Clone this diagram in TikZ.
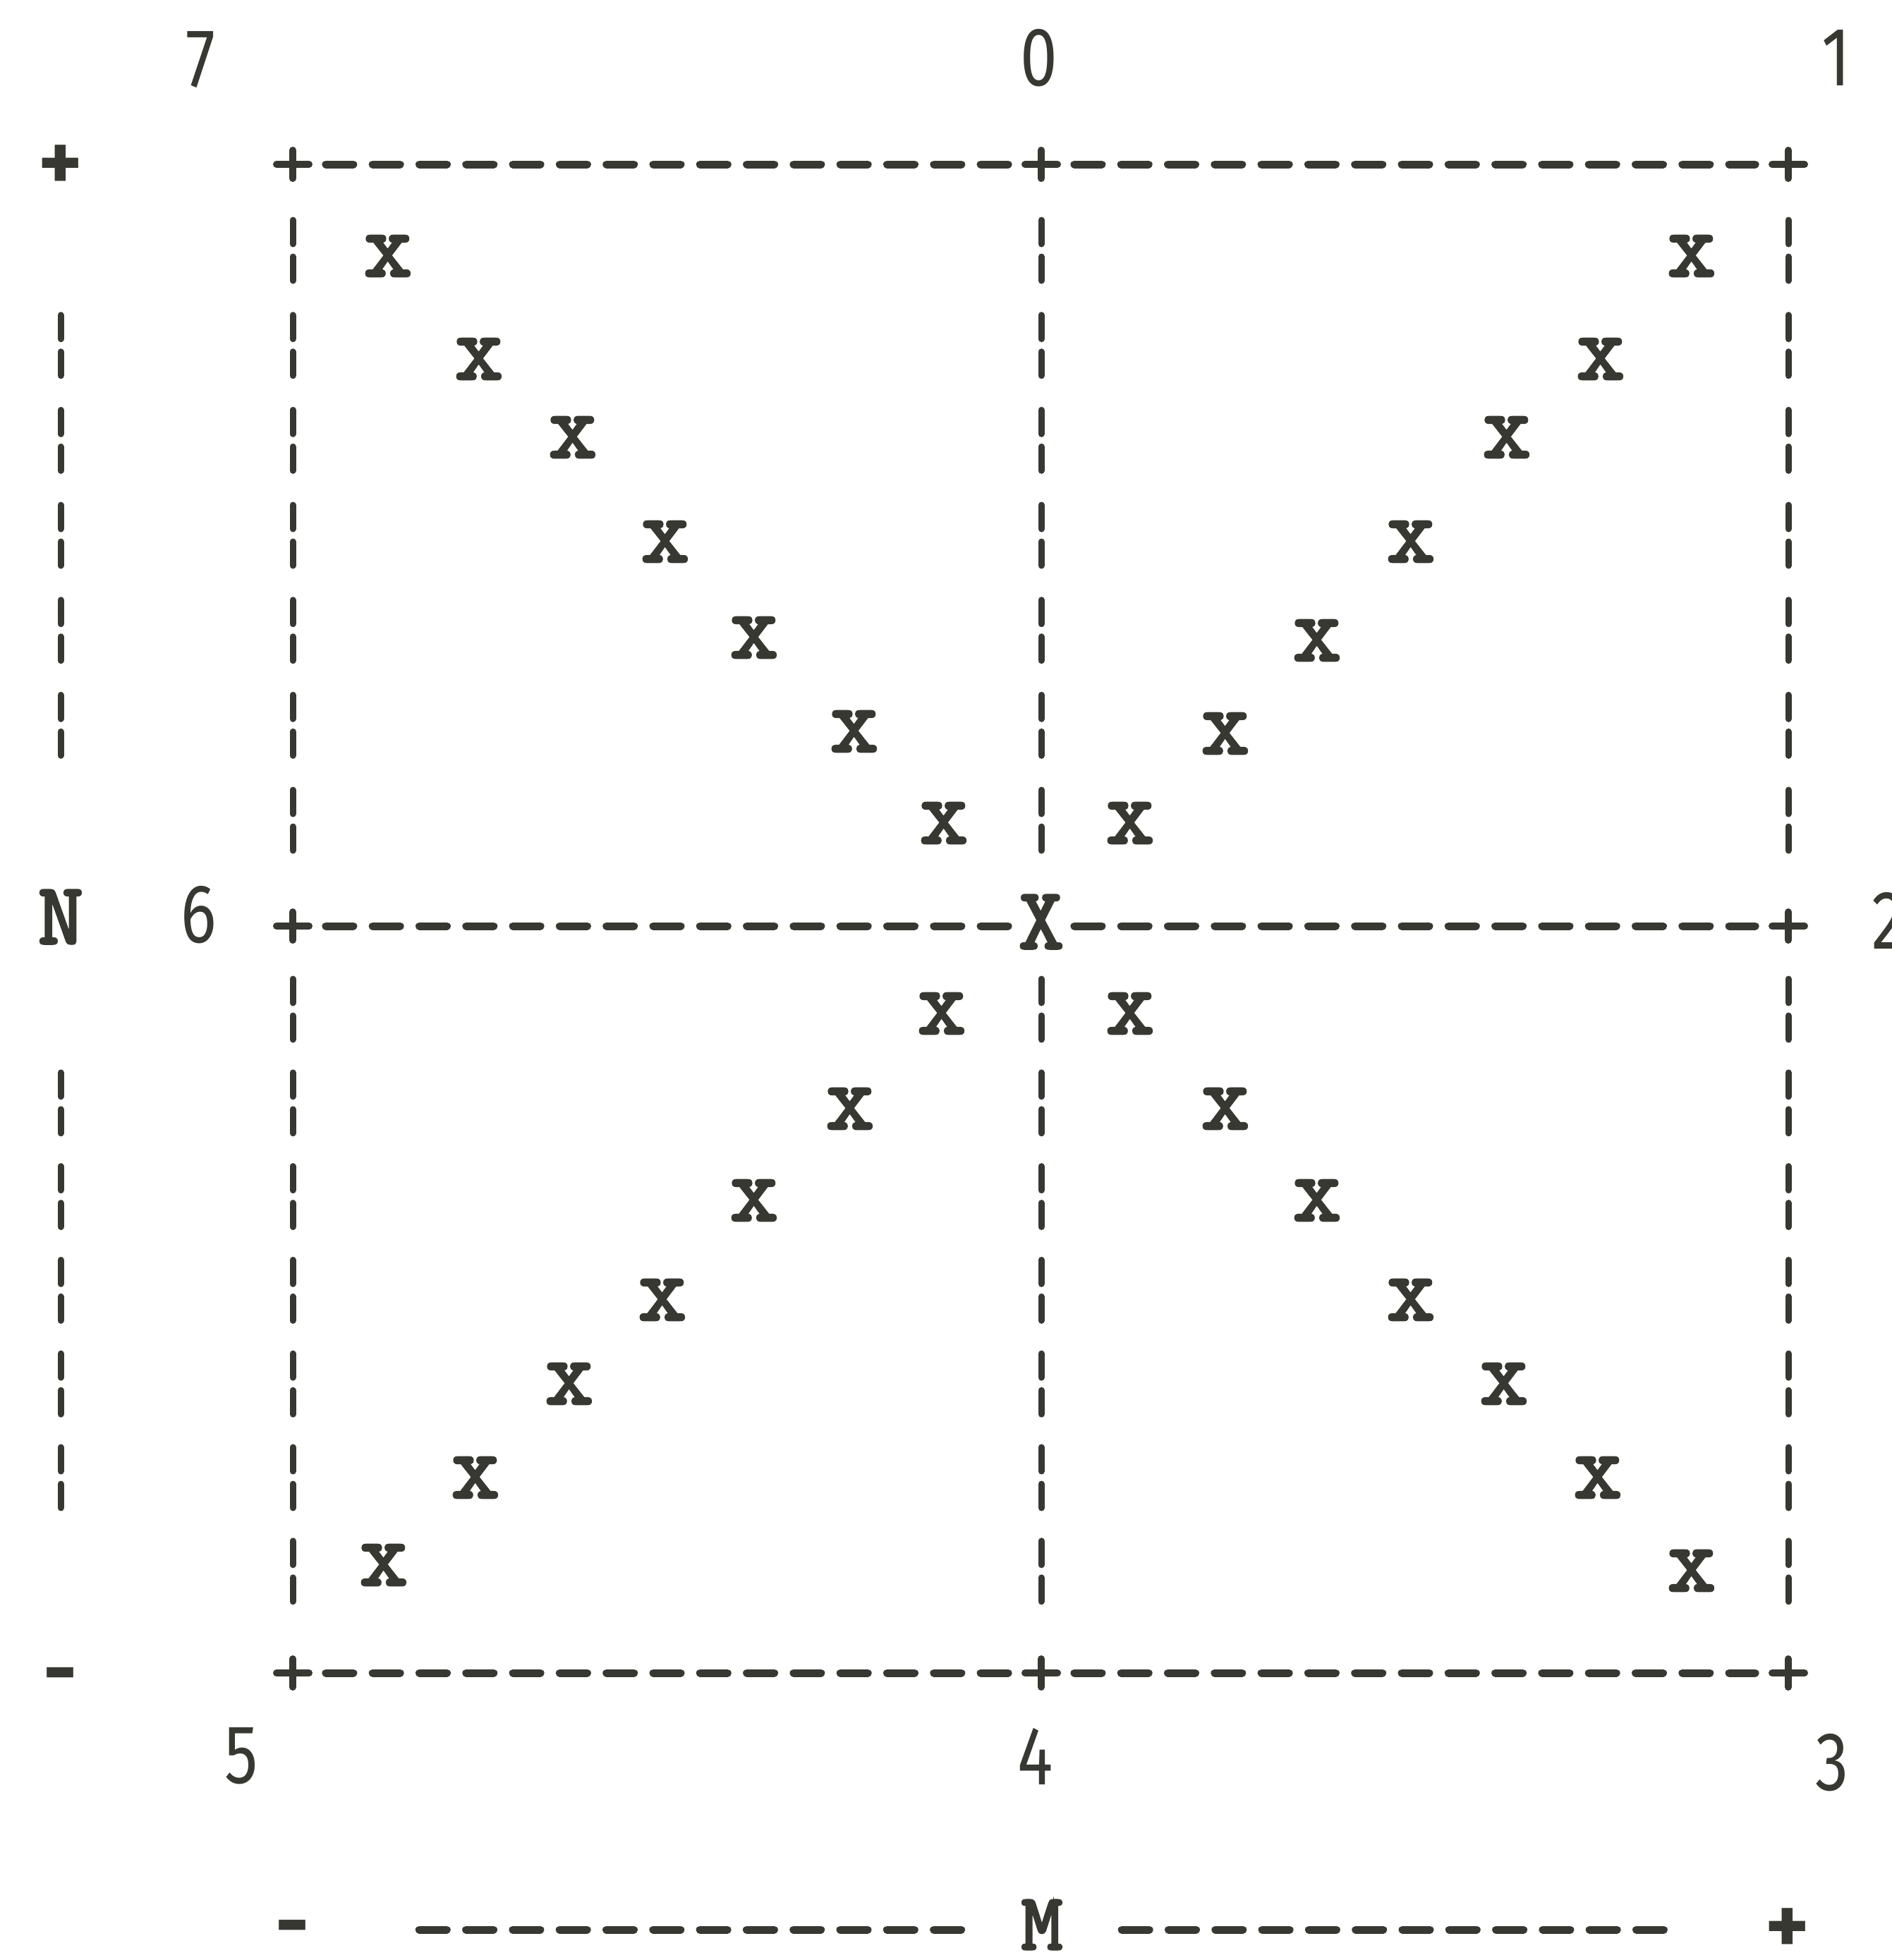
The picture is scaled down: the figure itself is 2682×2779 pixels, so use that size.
\documentclass[tikz,border=0pt]{standalone}
\usepackage{fontspec}
\newfontfamily\twfont{Latin Modern Mono}[FakeBold=3]
\newfontfamily\digfont{Fira Sans}
\definecolor{inkc}{RGB}{56,56,50}
\begin{document}
\begin{tikzpicture}[x=1pt,y=-1pt,
  ink/.style={draw=inkc,line width=11pt,line cap=round},
  hdash/.style={ink,dash pattern=on 39pt off 27.3pt},
  vbarU/.style={ink,line width=9pt,dash pattern=on 34pt off 18pt on 34pt off 48.67pt},
  vbarL/.style={ink,line width=9pt,dash pattern=on 34pt off 18pt on 34pt off 46.8pt},
  xm/.style={inner sep=0pt,text=inkc,font=\fontsize{132}{132}\selectfont\twfont},
  lt/.style={inner sep=0pt,text=inkc,font=\fontsize{124}{124}\selectfont\twfont},
  dg/.style={inner sep=0pt,text=inkc,font=\fontsize{118}{118}\selectfont\digfont},
  sg/.style={inner sep=0pt,text=inkc,font=\fontsize{118}{118}\selectfont\digfont\bfseries}
]
\clip (0,0) rectangle (2682,2779);
\fill[white] (0,0) rectangle (2682,2779);

% crossings of the frame
\coordinate (a0) at (415,233);  \coordinate (b0) at (1476,233);  \coordinate (c0) at (2535,233);
\coordinate (a8) at (415,1313); \coordinate (b8) at (1476,1313); \coordinate (c8) at (2535,1313);
\coordinate (a16) at (415,2372);\coordinate (b16) at (1476,2372);\coordinate (c16) at (2535,2372);

\foreach \n in {a0,b0,c0,a8,c8,a16,b16,c16}
  \draw[ink,line width=10pt] ([xshift=-23pt]\n) -- ([xshift=23pt]\n) ([yshift=-20pt]\n) -- ([yshift=20pt]\n);

% centre X
\node[lt,yshift=6pt] (X) at (b8) {X};

% horizontal dashed lines
\foreach \r in {0,8,16}{
  \draw[hdash] ([xshift=46.9pt]a\r) -- ([xshift=-46.9pt]b\r);
  \draw[hdash] ([xshift=46.9pt]b\r) -- ([xshift=-46.9pt]c\r);
}

% vertical broken bars
\foreach \c in {a,b,c}{
  \draw[vbarU] ([yshift=-79pt]\c0) -- ([yshift=107pt]\c8);
  \draw[vbarL] ([yshift=-75pt]\c8) -- ([yshift=101.2pt]\c16);
}

% left axis N
\node[sg] (plusN) at (86,238) {+};
\node[lt] (N) at (86,1300) {N};
\node[sg] (minusN) at (86,2386) {-};
\draw[vbarU] ([yshift=-208.7pt]plusN.center) -- ([yshift=228.7pt]N.center);
\draw[vbarL] ([yshift=-220.8pt]N.center) -- ([yshift=248pt]minusN.center);

% bottom axis M
\node[sg] (minusM) at (415,2744) {-};
\node[lt,font=\fontsize{114}{114}\selectfont\twfont] (M) at (1477,2729) {M};
\node[sg] (plusM) at (2534,2738) {+};
\draw[hdash] ([xshift=179.3pt,yshift=8pt]minusM.center) -- ([xshift=-113.2pt,yshift=-7pt]M.center);
\draw[hdash] ([xshift=113.2pt,yshift=-7pt]M.center) -- ([xshift=-175.6pt,yshift=2pt]plusM.center);

% digit labels
\node[dg] (d7) at (284,85) {\scalebox{.8}[1]{7}};
\node[dg] (d0) at (1473,82) {\scalebox{.8}[1]{0}};
\node[dg] (d1) at (2603,82) {\scalebox{.8}[1]{1}};
\node[dg] (d6) at (282,1297) {\scalebox{.8}[1]{6}};
\node[dg] (d2) at (2677,1305) {\scalebox{.8}[1]{2}};
\node[dg] (d5) at (342,2490) {\scalebox{.8}[1]{5}};
\node[dg] (d4) at (1468,2490) {\scalebox{.8}[1]{4}};
\node[dg] (d3) at (2597,2499) {\scalebox{.8}[1]{3}};

% x marks
\foreach \u/\v [count=\i] in {550/363,679/509,812/620,943/768,1069/904,1211/1037,1338/1167}
  \node[xm] (tl\i) at (\u,\v) {x};
\foreach \u/\v [count=\i] in {1602/1167,1737/1040,1867/908,2000/768,2136/620,2269/509,2398/363}
  \node[xm] (tr\i) at (\u,\v) {x};
\foreach \u/\v [count=\i] in {1335/1437,1205/1572,1069/1702,939/1843,807/1962,674/2095,544/2219}
  \node[xm] (bl\i) at (\u,\v) {x};
\foreach \u/\v [count=\i] in {1602/1437,1737/1572,1867/1702,2000/1843,2132/1962,2265/2095,2398/2227}
  \node[xm] (br\i) at (\u,\v) {x};
\end{tikzpicture}
\end{document}
